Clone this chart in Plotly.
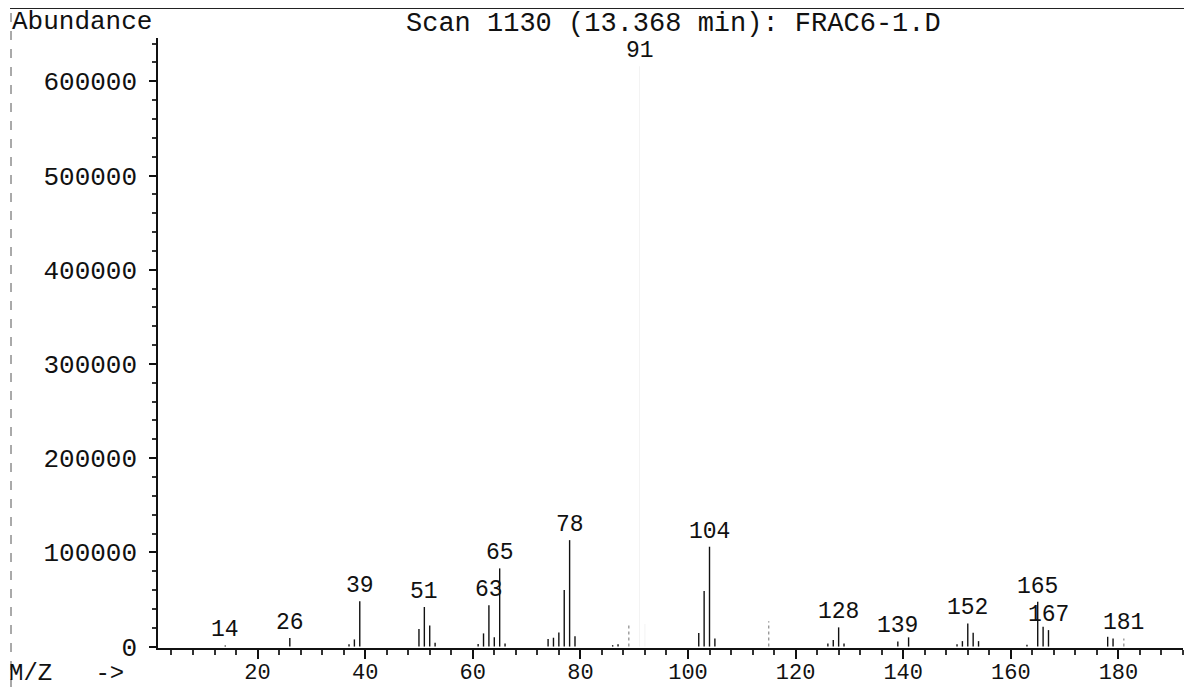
import plotly.graph_objects as go

# ---------------- data ----------------
title_text = "Scan 1130 (13.368 min): FRAC6-1.D"
mz = [14, 26, 37, 38, 39, 50, 51, 52, 53, 61, 62, 63, 64, 65, 66,
      74, 75, 76, 77, 78, 79, 86, 87, 89, 91, 92, 102, 103, 104, 105,
      115, 126, 127, 128, 129, 139, 141, 150, 151, 152, 153, 154,
      163, 165, 166, 167, 178, 179, 181]
abundance = [1200, 9000, 2500, 7600, 48000, 18600, 42000, 22500, 4000, 2700, 14000, 44000, 9800, 83000, 3400,
             8000, 9400, 15000, 60000, 113000, 11000, 1500, 2500, 25500, 616000, 24000, 14500, 59000, 106000, 8700,
             27000, 3400, 6900, 20400, 3400, 5500, 9800, 2500, 5800, 24600, 14600, 5800,
             2000, 47600, 21000, 17500, 10400, 8700, 8700]
labeled_mz = [14, 26, 39, 51, 63, 65, 78, 91, 104, 128, 139, 152, 165, 167, 181]
faint_mz = [91, 92]          # faded in the printed scan
gray_mz = [89, 115, 181]     # printed light grey
x_ticks = [20, 40, 60, 80, 100, 120, 140, 160, 180]
y_ticks = [0, 100000, 200000, 300000, 400000, 500000, 600000]

FONT = "Liberation Mono, DejaVu Sans Mono, monospace"

fig = go.Figure()


def sticks(sel):
    xs, ys = [], []
    for m, a in zip(mz, abundance):
        if sel(m):
            xs += [m, m, None]
            ys += [0, a, None]
    return xs, ys


xs, ys = sticks(lambda m: m not in faint_mz and m not in gray_mz)
fig.add_trace(go.Scatter(x=xs, y=ys, mode="lines", line=dict(color="#111111", width=1.4),
                         hoverinfo="skip", showlegend=False))
xs, ys = sticks(lambda m: m in gray_mz)
fig.add_trace(go.Scatter(x=xs, y=ys, mode="lines", line=dict(color="#9a9a9a", width=1.4, dash="dot"),
                         hoverinfo="skip", showlegend=False))
xs, ys = sticks(lambda m: m in faint_mz)
fig.add_trace(go.Scatter(x=xs, y=ys, mode="lines", line=dict(color="rgba(0,0,0,0.05)", width=1),
                         hoverinfo="skip", showlegend=False))

# peak labels
for m in labeled_mz:
    a = abundance[mz.index(m)]
    fig.add_annotation(x=m, y=a, text=str(m), showarrow=False, xanchor="center", yanchor="bottom",
                       yshift=0, font=dict(family=FONT, size=23, color="#111111"))

fig.add_annotation(x=0.503, y=1, xref="paper", yref="paper", xanchor="center", yanchor="middle", yshift=14,
                   text=title_text, showarrow=False, font=dict(family=FONT, size=27, color="#111111"))
fig.add_annotation(x=-0.074, y=1, xref="paper", yref="paper", xanchor="center", yanchor="middle", yshift=16,
                   text="Abundance", showarrow=False, font=dict(family=FONT, size=26, color="#111111"))
fig.add_annotation(x=-0.147, y=0, xref="paper", yref="paper", xanchor="left", yanchor="middle", yshift=-25,
                   text="M/Z&nbsp;&nbsp;&nbsp;-&gt;", showarrow=False,
                   font=dict(family=FONT, size=24, color="#111111"))

# frame lines (top and left)
fig.add_shape(type="line", xref="paper", yref="paper", xsizemode="pixel", xanchor=0,
              ysizemode="pixel", yanchor=1, x0=-148, x1=1030, y0=30, y1=30,
              line=dict(color="#222222", width=2))
fig.add_shape(type="line", xref="paper", yref="paper", xsizemode="pixel", xanchor=0,
              ysizemode="pixel", yanchor=0, x0=-147, x1=-147, y0=-40, y1=641,
              line=dict(color="#555555", width=1, dash="dash"))

fig.update_xaxes(range=[1.5, 192], tickvals=x_ticks, ticks="outside", ticklen=9, tickwidth=1.5,
                 tickcolor="#111111", showline=True, linecolor="#111111", linewidth=2,
                 showgrid=False, zeroline=False, ticklabelstandoff=-6, automargin=False,
                 tickfont=dict(family=FONT, size=22, color="#111111"),
                 minor=dict(dtick=4, tick0=0, ticks="outside", ticklen=5, tickcolor="#333333", showgrid=False))
fig.update_yaxes(range=[-1500, 646000], tickvals=y_ticks, tickformat="d", ticks="outside", ticklen=7,
                 tickwidth=1.5, tickcolor="#111111", showline=True, linecolor="#111111", linewidth=1.5,
                 showgrid=False, zeroline=False, ticklabelstandoff=7, automargin=False,
                 tickfont=dict(family=FONT, size=26, color="#111111"),
                 minor=dict(dtick=20000, tick0=0, ticks="outside", ticklen=4, tickcolor="#333333", showgrid=False))

# page body adds an 8px offset, so the figure is sized to fit the window
fig.update_layout(width=1176, height=679, paper_bgcolor="white", plot_bgcolor="white",
                  margin=dict(l=150, r=1, t=30, b=39), showlegend=False)

fig.write_html("out.html")
